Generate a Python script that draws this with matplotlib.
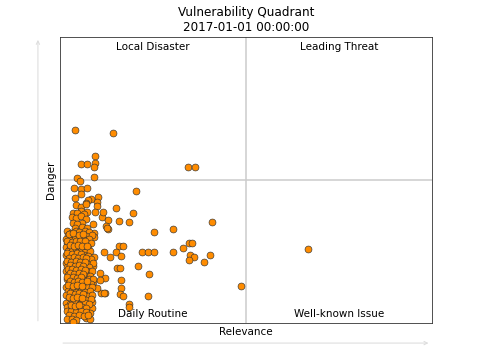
import matplotlib
matplotlib.use("Agg")
import matplotlib.pyplot as plt
import numpy as np

title = "Vulnerability Quadrant\n2017-01-01 00:00:00"
quadrant_labels = ["Local Disaster", "Leading Threat", "Daily Routine", "Well-known Issue"]

# scattered points outside the main cluster (relevance, danger), 0..100
outer_relevance = [4.0, 14.2, 9.4, 5.6, 7.3, 9.4, 9.1, 9.1, 4.6, 5.4, 34.4, 36.3,
                   20.4, 15.1, 19.6, 11.3, 12.9, 15.9, 18.5, 12.4, 12.9, 25.3, 30.4, 40.9,
                   15.9, 17.0, 11.8, 15.1, 22.0, 23.7, 25.3, 30.4, 33.1, 34.7, 35.5, 34.9,
                   36.0, 34.7, 40.3, 38.7, 48.7, 66.7, 16.4, 13.4, 15.3, 16.1, 21.0, 23.9,
                   12.1, 16.4, 16.4, 12.1, 16.1, 17.0, 23.7, 18.5, 18.5, 10.2, 9.9, 9.9,
                   11.6, 12.6, 8.9, 9.1, 9.1, 9.1, 8.9, 10.8, 10.8, 11.1, 8.9, 11.8, 10.0,
                   8.6, 8.6, 8.1, 7.0, 8.1, 4.0]
outer_danger = [67.5, 66.4, 58.4, 55.6, 55.6, 55.9, 54.5, 51.0, 50.7, 49.7, 54.5, 54.5,
                46.2, 40.2, 38.5, 37.1, 36.0, 35.7, 35.3, 33.9, 32.9, 31.8, 32.9, 35.3,
                26.9, 26.9, 24.8, 24.8, 24.8, 24.8, 24.8, 24.8, 26.2, 28.0, 28.0, 23.8,
                23.1, 22.0, 23.8, 21.3, 12.9, 25.9, 23.4, 23.1, 19.2, 19.2, 19.9, 17.1,
                15.7, 15.0, 12.2, 10.5, 10.1, 9.4, 9.4, 6.6, 5.6, 44.1, 42.3, 40.9,
                38.8, 33.2, 34.6, 31.6, 29.9, 23.1, 19.9, 17.5, 15.0, 10.5, 14.4, 10.5, 12.2,
                7.3, 5.2, 3.5, 1.7, 1.4, 0.3]

# dense cluster near the left edge
cluster_relevance = [3.8, 5.6, 7.3, 5.6, 4.0, 8.3, 7.5, 7.0, 4.3, 5.6, 7.0, 9.4, 7.3, 5.6,
                     3.5, 4.6, 6.5, 3.2, 4.3, 5.6, 7.0, 5.9, 3.5, 4.6, 5.9, 7.3, 4.0,
                     1.8, 2.9, 4.3, 5.2, 6.6, 7.7,
                     2.2, 3.4, 4.8, 6.0, 7.1, 8.6,
                     1.6, 2.7, 3.9, 5.5, 6.3, 7.9,
                     2.0, 3.1, 4.5, 5.8, 6.9, 8.2,
                     1.5, 2.6, 3.7, 4.9, 6.2, 7.4,
                     2.1, 3.3, 4.4, 5.6, 6.8, 8.0,
                     1.7, 2.8, 4.0, 5.2, 6.4, 7.6,
                     2.3, 3.5, 4.7, 5.9, 7.1, 8.4,
                     1.6, 2.6, 3.9, 5.0, 6.1, 7.3, 8.8,
                     2.0, 3.2, 4.4, 5.5, 6.7, 7.9,
                     1.5, 2.7, 3.8, 5.1, 6.3, 7.2, 8.5,
                     2.2, 3.4, 4.6, 5.8, 6.9, 8.1,
                     1.8, 2.9, 4.1, 5.3, 6.5, 7.7, 8.9,
                     2.4, 3.6, 4.8, 6.0, 7.0, 8.3,
                     1.6, 2.7, 3.9, 5.1, 6.2, 7.5, 8.7,
                     2.1, 3.2, 4.4, 5.6, 6.8, 8.0,
                     1.7, 2.9, 4.0, 5.3, 6.5, 7.6, 8.6,
                     2.3, 3.5, 4.7, 5.8, 7.0, 8.3,
                     1.5, 2.8, 4.1, 5.4, 6.6, 7.8,
                     2.0, 3.3, 4.6, 5.9, 7.1,
                     1.8, 3.0, 4.3, 5.6, 6.9,
                     2.4, 3.7, 5.0, 6.4, 7.5,
                     2.0, 3.1, 4.2, 3.6]
cluster_danger = [47.2, 46.9, 47.2, 45.1, 43.7, 43.4, 43.0, 42.0, 41.3, 40.6, 41.6, 38.8, 38.8, 39.2,
                  38.5, 38.5, 38.1, 37.1, 36.7, 37.4, 36.4, 35.0, 35.0, 34.6, 33.6, 33.2, 33.2,
                  32.0, 31.6, 32.3, 31.8, 32.1, 31.7,
                  30.6, 30.9, 30.4, 30.7, 30.3, 30.8,
                  29.3, 29.0, 29.5, 29.1, 29.4, 29.2,
                  27.8, 28.1, 27.6, 27.9, 27.7, 28.0,
                  26.4, 26.2, 26.6, 26.3, 26.5, 26.1,
                  25.0, 25.3, 24.8, 25.1, 24.9, 25.2,
                  23.6, 23.4, 23.8, 23.5, 23.7, 23.3,
                  22.1, 22.4, 21.9, 22.2, 22.0, 22.3,
                  20.8, 20.6, 21.0, 20.7, 20.9, 20.5, 20.8,
                  19.4, 19.6, 19.2, 19.5, 19.3, 19.7,
                  18.0, 18.2, 17.8, 18.1, 17.9, 18.3, 18.0,
                  16.6, 16.4, 16.8, 16.5, 16.7, 16.3,
                  15.2, 15.4, 15.0, 15.3, 15.1, 15.5, 15.2,
                  13.8, 13.6, 14.0, 13.7, 13.9, 13.5,
                  12.4, 12.6, 12.2, 12.5, 12.3, 12.7, 12.4,
                  11.0, 11.2, 10.8, 11.1, 10.9, 11.3,
                  9.6, 9.4, 9.8, 9.5, 9.7, 9.3, 9.6,
                  8.2, 8.4, 8.0, 8.3, 8.1, 8.5,
                  6.8, 6.6, 7.0, 6.7, 6.9, 6.5,
                  5.4, 5.6, 5.2, 5.5, 5.3,
                  4.0, 4.2, 3.8, 4.1, 3.9,
                  2.6, 2.4, 2.8, 2.5, 2.7,
                  1.2, 1.4, 1.0, 0.3]

# second layer of the cluster, between the rows above
fill_relevance = [2.5, 3.6, 5.0, 6.3, 1.9, 3.1, 4.2, 5.4, 6.6, 2.6, 3.8, 4.9, 6.0, 7.2,
                  2.0, 3.3, 4.6, 5.7, 2.5, 3.7, 4.8, 6.1, 7.0, 1.9, 3.0, 4.2, 5.5, 6.6,
                  2.6, 3.9, 5.0, 6.2, 2.1, 3.2, 4.4, 5.6, 6.8, 2.7, 3.8, 5.0, 6.1,
                  2.0, 3.4, 4.5, 5.7, 2.6, 3.7, 4.9, 6.0, 7.3, 2.2, 3.4, 4.6, 5.8,
                  2.8, 4.0, 5.2, 6.3, 2.3, 3.5, 4.7, 5.9, 2.9, 4.1, 5.2]
fill_danger = [31.1, 31.3, 30.9, 31.2, 28.6, 28.4, 28.8, 28.5, 28.7, 27.1, 26.9, 27.2, 27.0, 26.8,
               24.3, 24.1, 24.4, 24.2, 22.8, 22.9, 22.7, 23.0, 22.6, 21.5, 21.3, 21.6, 21.4, 21.2,
               20.1, 19.9, 20.2, 20.0, 18.7, 18.9, 18.6, 18.8, 18.5, 17.3, 17.1, 17.4, 17.2,
               15.9, 16.0, 15.8, 16.1, 14.5, 14.3, 14.6, 14.4, 14.7, 13.1, 12.9, 13.2, 13.0,
               10.3, 10.1, 10.4, 10.2, 8.9, 8.7, 9.0, 8.8, 6.1, 6.0, 6.2]

relevance = np.array(outer_relevance + cluster_relevance + fill_relevance)
danger = np.array(outer_danger + cluster_danger + fill_danger)

fig = plt.figure(figsize=(6.4, 4.8), dpi=75)
ax = fig.add_axes([0.125, 0.103, 0.775, 0.794])

ax.axvline(50, color="#cccccc", lw=1.5, zorder=1)
ax.axhline(50, color="#cccccc", lw=1.5, zorder=1)
ax.scatter(relevance, danger, s=44, c="#ff8c00", edgecolors="#333333", linewidths=0.6, zorder=3)

ax.set_xlim(0, 100)
ax.set_ylim(0, 100)
ax.set_xticks([])
ax.set_yticks([])
for sp in ax.spines.values():
    sp.set_color("#333333")

ax.text(25, 98.3, quadrant_labels[0], ha="center", va="top", fontsize=10)
ax.text(75, 98.3, quadrant_labels[1], ha="center", va="top", fontsize=10)
ax.text(25, 1.5, quadrant_labels[2], ha="center", va="bottom", fontsize=10, zorder=4)
ax.text(75, 1.5, quadrant_labels[3], ha="center", va="bottom", fontsize=10)

ax.set_title(title, fontsize=11.5)
ax.set_xlabel("Relevance", fontsize=10)
ax.set_ylabel("Danger", fontsize=10)

fig.patches.append(matplotlib.patches.FancyArrowPatch(
    (0.079, 0.103), (0.079, 0.895), transform=fig.transFigure,
    arrowstyle="->", mutation_scale=8, color="#dddddd", lw=1))
fig.patches.append(matplotlib.patches.FancyArrowPatch(
    (0.127, 0.047), (0.897, 0.047), transform=fig.transFigure,
    arrowstyle="->", mutation_scale=8, color="#dddddd", lw=1))

fig.savefig("out.png", dpi=75)
